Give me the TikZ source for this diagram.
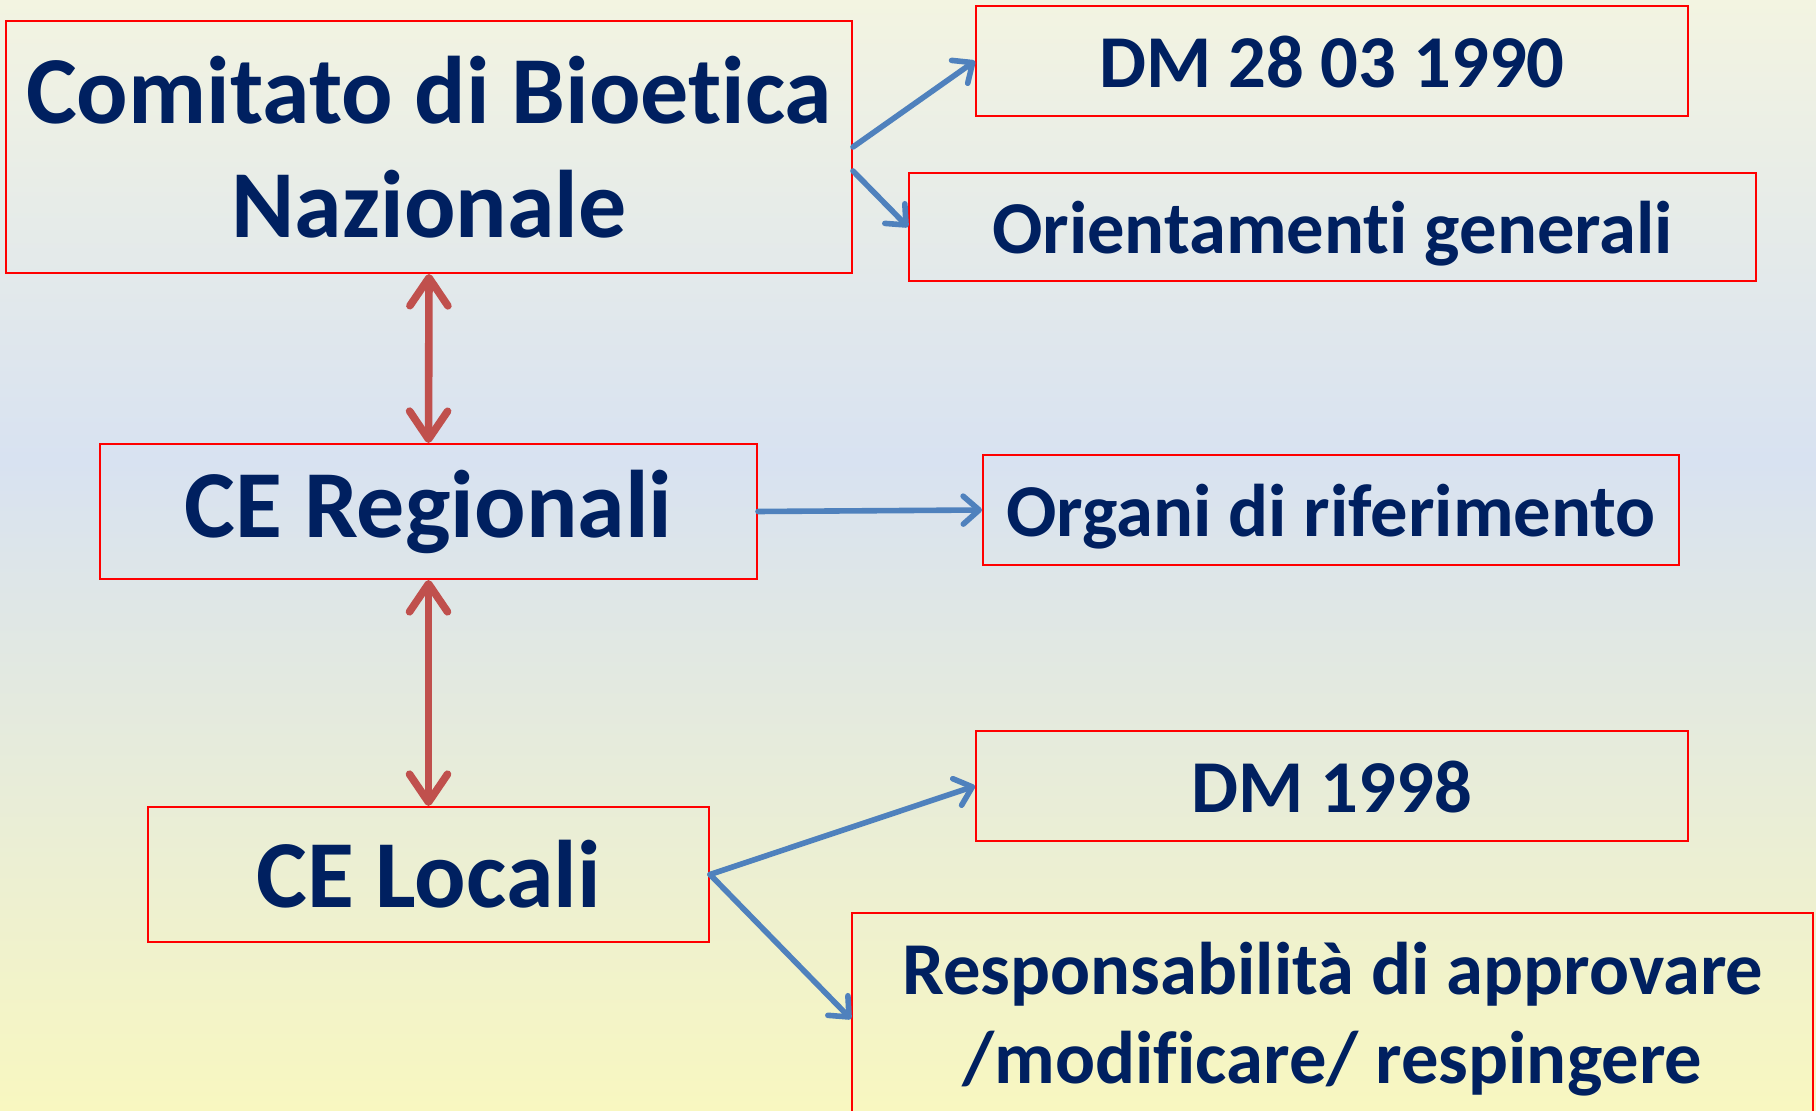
\documentclass[tikz,border=0pt]{standalone}
\usepackage{fontspec}
\setmainfont{Carlito}[Ligatures={NoCommon}]
\usepackage{xcolor}
\definecolor{TitleNavy}{HTML}{002060}
\definecolor{BoxRed}{HTML}{FF0000}
\definecolor{LinkBlue}{HTML}{4F81BD}
\definecolor{LinkRed}{HTML}{C0504D}
\definecolor{BgTop}{HTML}{F3F4E1}
\definecolor{BgMid}{HTML}{D8E2F1}
\definecolor{BgBottom}{HTML}{F8F7C0}
\usepackage{tikz}
\usetikzlibrary{positioning}
\usetikzlibrary{calc}
\usetikzlibrary{arrows.meta}

\begin{document}
\begin{tikzpicture}[
    x=0.5pt, y=-0.5pt,
    ceBox/.style={rectangle,
    draw=BoxRed,
    line width=1pt,
    text=TitleNavy,
    font=\fontsize{48}{57}\selectfont\bfseries,
    align=center,
    inner sep=0pt},
    refBox/.style={ceBox,
    font=\fontsize{37.3}{44.5}\selectfont\bfseries},
    lineBox/.style={refBox, text height=31pt, text depth=4.5pt},
    blueLink/.style={draw=LinkBlue, line width=2.8pt, line cap=round,
    -{Straight Barb[length=8pt, width=14pt, round]}},
    redLink/.style={draw=LinkRed, line width=3.8pt, line cap=round,
    {Straight Barb[length=14pt, width=19pt, round]}-{Straight Barb[length=14pt, width=19pt, round]}}
    ]
    \path[use as bounding box, clip] (0,0) rectangle (1816,1111);
    \shade[top color=BgTop, bottom color=BgMid] (0,0) rectangle (1816,460);
    \shade[top color=BgMid, bottom color=BgBottom] (0,460) rectangle (1816,1111);

    \node[ceBox, minimum width=423pt, minimum height=126pt] (cbn) at (429,147) {Comitato di Bioetica\\Nazionale};
    \node[ceBox, minimum width=328.5pt, minimum height=67.5pt] (cer) at (428.5,511.5) {CE Regionali};
    \node[ceBox, minimum width=280.5pt, minimum height=67.5pt] (cel) at (428.5,874.5) {CE Locali};

    \node[lineBox, minimum width=356pt, minimum height=55pt] (dm90) at (1332,61) {DM 28 03 1990};
    \node[lineBox, minimum width=423.5pt, minimum height=54pt] (orient) at (1332.5,227) {Orientamenti generali};
    \node[lineBox, minimum width=348pt, minimum height=55pt] (organi) at (1331,510) {Organi di riferimento};
    \node[lineBox, minimum width=356pt, minimum height=55pt] (dm98) at (1332,786) {DM 1998};
    \node[refBox, minimum width=480.5pt, minimum height=106pt] (resp) at (1332.5,1019) {Responsabilità di approvare\\/modificare/ respingere};

    \draw[redLink] (cbn.south) -- (cer.north);
    \draw[redLink] (cer.south) -- (cel.north);
    \draw[blueLink] (cbn.east) -- (dm90.west);
    \draw[blueLink] ([yshift=-12pt]cbn.east) -- (orient.west);
    \draw[blueLink] (cer.east) -- (organi.west);
    \draw[blueLink] (cel.east) -- (dm98.west);
    \draw[blueLink] (cel.east) -- (resp.west);
\end{tikzpicture}
\end{document}
